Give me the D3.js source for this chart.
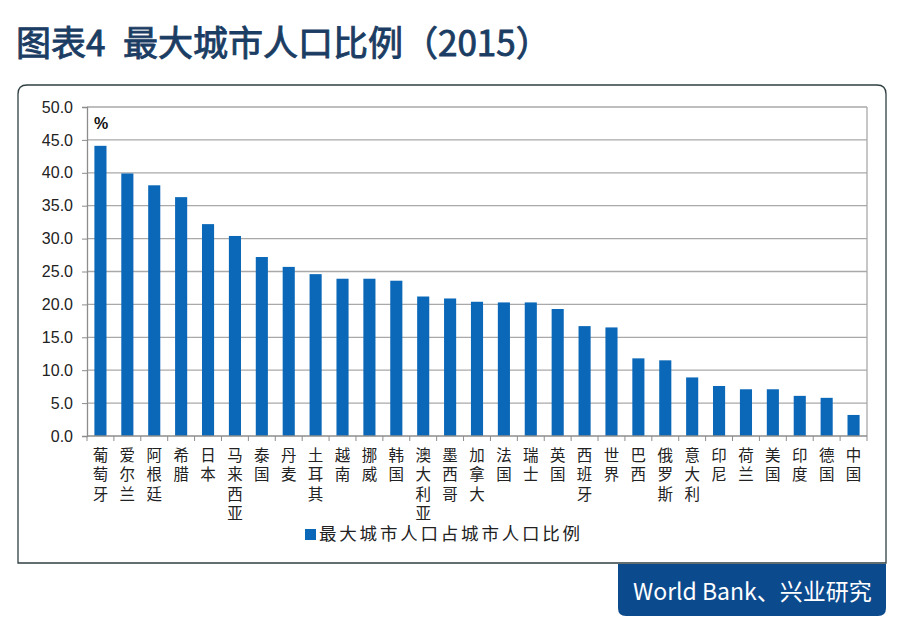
<!DOCTYPE html>
<html>
<head>
<meta charset="utf-8">
<script src="https://cdn.jsdelivr.net/npm/d3@7"></script>
<style>
html,body{margin:0;padding:0;background:#fff;}
svg{display:block;}
</style>
</head>
<body>
<svg id="chart" width="905" height="630"></svg>
<script>
const categories = ["葡萄牙","爱尔兰","阿根廷","希腊","日本","马来西亚","泰国","丹麦","土耳其","越南","挪威","韩国","澳大利亚","墨西哥","加拿大","法国","瑞士","英国","西班牙","世界","巴西","俄罗斯","意大利","印尼","荷兰","美国","印度","德国","中国"];
const values = [44.1,39.9,38.1,36.3,32.2,30.4,27.2,25.7,24.6,23.9,23.9,23.6,21.2,20.9,20.4,20.3,20.3,19.3,16.7,16.5,11.8,11.5,8.9,7.6,7.1,7.1,6.1,5.8,3.2];
const yTicks = [0,5,10,15,20,25,30,35,40,45,50];
const seriesName = "最大城市人口占城市人口比例";
const titlePrefix = "图表4";
const titleMain = "最大城市人口比例（2015）";
const sourceText = "World Bank、兴业研究";

const svg = d3.select("#chart");
const cjk = "'Noto Sans CJK SC','Noto Sans',sans-serif";

// title
const tt = svg.append("text").attr("x",16).attr("y",56)
  .attr("font-family",cjk).attr("font-size",35).attr("font-weight",400)
  .attr("fill","#1b3d63").attr("stroke","#1b3d63").attr("stroke-width",0.9);
tt.append("tspan").text(titlePrefix);
tt.append("tspan").attr("x",123).text(titleMain);

// card
svg.append("path")
  .attr("d","M18,563 L886,563 L886,94 Q886,85 877,85 L27,85 Q18,85 18,94 Z")
  .attr("fill","none").attr("stroke","#2f3f42").attr("stroke-width",1.3);

// footer
svg.append("path")
  .attr("d","M618,564 L886,564 L886,608 Q886,616 878,616 L626,616 Q618,616 618,608 Z")
  .attr("fill","#0c4a8e");
svg.append("text").attr("x",633).attr("y",600)
  .attr("font-family",cjk).attr("font-size",23).attr("fill","#ffffff")
  .text(sourceText);

const x0=87, x1=867, yTop=107, yBot=436;
const x = d3.scaleBand().domain(categories).range([x0,x1]).paddingInner(0.55).paddingOuter(0.275);
const y = d3.scaleLinear().domain([0,50]).range([yBot,yTop]);

// gridlines
svg.append("g").selectAll("line").data(yTicks.filter(d=>d>0)).join("line")
  .attr("x1",x0).attr("x2",x1).attr("y1",d=>y(d)).attr("y2",d=>y(d))
  .attr("stroke","#a9a9a9").attr("stroke-width",1.3);
// right border
svg.append("line").attr("x1",x1).attr("x2",x1).attr("y1",yTop).attr("y2",yBot)
  .attr("stroke","#a9a9a9").attr("stroke-width",1.3);

// bars
svg.append("g").selectAll("rect").data(values).join("rect")
  .attr("x",(d,i)=>x(categories[i])).attr("width",x.bandwidth())
  .attr("y",d=>y(d)).attr("height",d=>yBot-y(d))
  .attr("fill","#0b68b8");

// y axis
const yAxis = d3.axisLeft(y).tickValues(yTicks).tickSize(5).tickFormat(d3.format(".1f"));
const gy = svg.append("g").attr("transform",`translate(${x0},0)`).call(yAxis);
gy.select(".domain").attr("stroke","#8c8c8c").attr("stroke-width",1.3);
gy.selectAll(".tick line").attr("stroke","#8c8c8c");
gy.selectAll(".tick text").attr("x",-14).attr("font-family","'Liberation Sans',Arial,sans-serif")
  .attr("font-size",16).attr("fill","#222");

// x axis with ticks at band boundaries
const gx = svg.append("g").attr("transform",`translate(0,${yBot})`);
gx.append("line").attr("x1",x0).attr("x2",x1).attr("stroke","#8c8c8c").attr("stroke-width",1.3);
const step = x.step();
const bounds = d3.range(categories.length+1).map(i=>x0+i*step);
gx.selectAll("line.t").data(bounds).join("line").attr("class","t")
  .attr("x1",d=>d).attr("x2",d=>d).attr("y1",0).attr("y2",5)
  .attr("stroke","#8c8c8c");

// x labels (vertical stacked)
const lbl = svg.append("g").selectAll("text").data(categories).join("text")
  .attr("font-family",cjk).attr("font-size",15.5).attr("fill","#222")
  .attr("text-anchor","middle");
lbl.each(function(c){
  const t=d3.select(this);
  const cx=x(c)+x.bandwidth()/2;
  Array.from(c).forEach((ch,i)=>{
    t.append("tspan").attr("x",cx).attr("y",461+i*19.3).text(ch);
  });
});

// % label
svg.append("text").attr("x",94).attr("y",129).attr("font-family","'Liberation Sans',Arial,sans-serif")
  .attr("font-size",16).attr("font-weight","bold").attr("fill","#111").text("%");

// legend
svg.append("rect").attr("x",305).attr("y",529).attr("width",11).attr("height",11).attr("fill","#0b68b8");
svg.append("text").attr("x",319).attr("y",540).attr("font-family",cjk).attr("font-size",17.5)
  .attr("letter-spacing",2.8).attr("fill","#222").text(seriesName);
</script>
</body>
</html>
